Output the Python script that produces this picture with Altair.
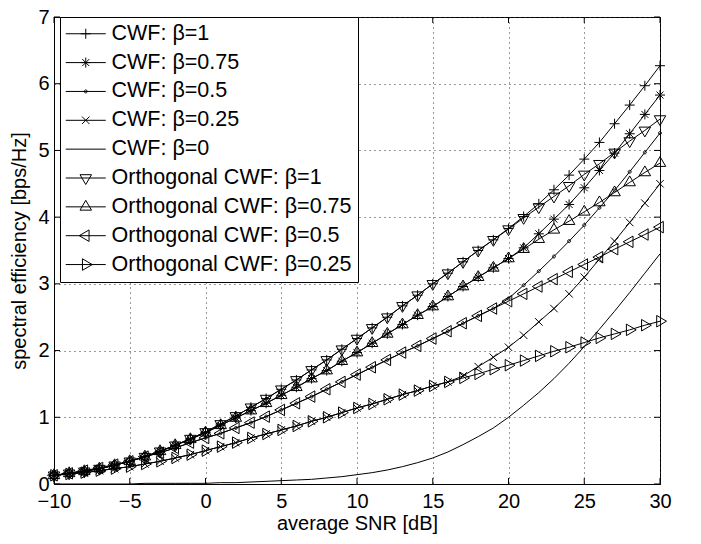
import altair as alt
import pandas as pd

# ---------------- data ----------------
snr_db = list(range(-10, 31))

cwf_b1 = [0.13, 0.16, 0.19, 0.23, 0.28, 0.34, 0.41, 0.49, 0.58, 0.68,
          0.78, 0.90, 1.02, 1.15, 1.28, 1.42, 1.56, 1.71, 1.86, 2.02,
          2.18, 2.34, 2.50, 2.67, 2.83, 3.00, 3.16, 3.33, 3.50, 3.66,
          3.83, 4.01, 4.20, 4.41, 4.63, 4.87, 5.12, 5.40, 5.68, 5.97, 6.27]
cwf_b075 = [0.13, 0.16, 0.19, 0.23, 0.28, 0.34, 0.41, 0.49, 0.58, 0.67,
            0.77, 0.88, 0.99, 1.10, 1.21, 1.33, 1.45, 1.58, 1.70, 1.84,
            1.97, 2.11, 2.25, 2.39, 2.53, 2.66, 2.81, 2.96, 3.10, 3.24,
            3.38, 3.54, 3.75, 3.97, 4.19, 4.44, 4.70, 4.96, 5.25, 5.54, 5.83]
cwf_b05 = [0.13, 0.16, 0.20, 0.24, 0.29, 0.34, 0.41, 0.47, 0.54, 0.62,
           0.69, 0.76, 0.84, 0.92, 1.01, 1.11, 1.21, 1.31, 1.42, 1.53,
           1.64, 1.75, 1.86, 1.97, 2.07, 2.18, 2.29, 2.41, 2.52, 2.63,
           2.78, 2.98, 3.19, 3.41, 3.64, 3.88, 4.14, 4.40, 4.68, 4.97, 5.26]
cwf_b025 = [0.13, 0.15, 0.17, 0.20, 0.23, 0.26, 0.30, 0.34, 0.39, 0.44,
            0.50, 0.56, 0.62, 0.69, 0.75, 0.81, 0.87, 0.94, 1.00, 1.07,
            1.14, 1.20, 1.27, 1.34, 1.40, 1.47, 1.53, 1.62, 1.76, 1.90,
            2.05, 2.23, 2.43, 2.63, 2.85, 3.10, 3.37, 3.64, 3.92, 4.21, 4.50]
cwf_b0 = [0.00, 0.00, 0.00, 0.00, 0.00, 0.00, 0.01, 0.01, 0.01, 0.01,
          0.01, 0.02, 0.02, 0.03, 0.04, 0.05, 0.06, 0.07, 0.09, 0.11,
          0.14, 0.17, 0.21, 0.26, 0.32, 0.39, 0.48, 0.59, 0.71, 0.84,
          1.00, 1.18, 1.37, 1.58, 1.81, 2.06, 2.32, 2.59, 2.87, 3.16, 3.45]
orth_b1 = [0.13, 0.16, 0.19, 0.23, 0.28, 0.34, 0.41, 0.49, 0.58, 0.68,
           0.78, 0.90, 1.02, 1.15, 1.28, 1.42, 1.56, 1.71, 1.86, 2.02,
           2.18, 2.34, 2.50, 2.67, 2.83, 3.00, 3.16, 3.33, 3.50, 3.66,
           3.82, 3.99, 4.15, 4.31, 4.47, 4.64, 4.80, 4.97, 5.14, 5.30, 5.47]
orth_b075 = [0.13, 0.16, 0.19, 0.23, 0.28, 0.34, 0.41, 0.49, 0.58, 0.67,
             0.77, 0.88, 0.99, 1.10, 1.21, 1.33, 1.45, 1.58, 1.70, 1.84,
             1.97, 2.11, 2.25, 2.39, 2.53, 2.66, 2.81, 2.96, 3.10, 3.24,
             3.38, 3.52, 3.67, 3.81, 3.94, 4.08, 4.22, 4.37, 4.52, 4.67, 4.81]
orth_b05 = [0.13, 0.16, 0.20, 0.24, 0.29, 0.34, 0.41, 0.47, 0.54, 0.62,
            0.69, 0.76, 0.84, 0.92, 1.01, 1.11, 1.21, 1.31, 1.42, 1.53,
            1.64, 1.75, 1.86, 1.97, 2.07, 2.18, 2.29, 2.41, 2.52, 2.63,
            2.74, 2.85, 2.96, 3.07, 3.18, 3.29, 3.40, 3.52, 3.63, 3.74, 3.85]
orth_b025 = [0.13, 0.15, 0.17, 0.20, 0.23, 0.26, 0.30, 0.34, 0.39, 0.44,
             0.50, 0.56, 0.62, 0.69, 0.75, 0.81, 0.87, 0.94, 1.00, 1.07,
             1.14, 1.20, 1.27, 1.34, 1.40, 1.47, 1.53, 1.59, 1.65, 1.72,
             1.78, 1.85, 1.92, 1.99, 2.05, 2.12, 2.19, 2.25, 2.31, 2.38, 2.44]

series_names = ["CWF: β=1", "CWF: β=0.75", "CWF: β=0.5", "CWF: β=0.25", "CWF: β=0",
                "Orthogonal CWF: β=1", "Orthogonal CWF: β=0.75",
                "Orthogonal CWF: β=0.5", "Orthogonal CWF: β=0.25"]
series_values = [cwf_b1, cwf_b075, cwf_b05, cwf_b025, cwf_b0,
                 orth_b1, orth_b075, orth_b05, orth_b025]

x_ticks = [-10, -5, 0, 5, 10, 15, 20, 25, 30]
y_ticks = [0, 1, 2, 3, 4, 5, 6, 7]

# ---------------- marker shapes (MATLAB style, unit coords) ----------------
marker_paths = [
    "M-1,0L1,0M0,-1L0,1",                                            # +
    "M-1,0L1,0M0,-1L0,1M-0.7,-0.7L0.7,0.7M-0.7,0.7L0.7,-0.7",         # *
    "M-0.3,0A0.3,0.3 0 1,1 0.3,0A0.3,0.3 0 1,1 -0.3,0Z",              # .
    "M-0.75,-0.75L0.75,0.75M-0.75,0.75L0.75,-0.75",                   # x
    "",                                                               # none
    "M-1.15,-0.66L1.15,-0.66L0,1.3Z",                                 # down tri
    "M-1.15,0.66L1.15,0.66L0,-1.3Z",                                  # up tri
    "M-1.3,0L0.66,-1.15L0.66,1.15Z",                                  # left tri
    "M1.3,0L-0.66,-1.15L-0.66,1.15Z",                                 # right tri
]
legend_paths = ["M-4,0L4,0" + p for p in marker_paths]
marked_names = [n for n, p in zip(series_names, marker_paths) if p]
marked_paths = [p for p in marker_paths if p]

rows = []
for name, vals in zip(series_names, series_values):
    for xv, yv in zip(snr_db, vals):
        rows.append({"snr": xv, "se": yv, "series": name})
df = pd.DataFrame(rows)
xt_df = pd.DataFrame({"v": x_ticks})
yt_df = pd.DataFrame({"v": y_ticks})

W, H = 606, 467
FONT = "Liberation Sans"

xs = alt.Scale(domain=[-10, 30], nice=False, zero=False)
ys = alt.Scale(domain=[0, 7], nice=False, zero=False)
x_axis = alt.Axis(values=x_ticks, title="average SNR [dB]", grid=True, ticks=False,
                  labelPadding=7, titlePadding=2, format="d", labelFlush=False,
                  labelOverlap=False)
y_axis = alt.Axis(values=y_ticks, title="spectral efficiency [bps/Hz]", grid=True,
                  ticks=False, labelPadding=5, titlePadding=8, format="d",
                  labelFlush=False, labelOverlap=False)

X = alt.X("snr:Q", scale=xs, axis=x_axis)
Y = alt.Y("se:Q", scale=ys, axis=y_axis)

lines = alt.Chart(df).mark_line(color="black", strokeWidth=1).encode(
    x=X, y=Y, detail="series:N", order="snr:Q")

points = alt.Chart(df).transform_filter(
    alt.FieldOneOfPredicate(field="series", oneOf=marked_names)
).mark_point(filled=False, color="black", size=100, strokeWidth=1, opacity=1).encode(
    x=X, y=Y,
    shape=alt.Shape("series:N", scale=alt.Scale(domain=marked_names, range=marked_paths),
                    legend=None))

legend_layer = alt.Chart(df).transform_filter("datum.snr > 1000").mark_point(
    filled=False, color="black", size=100, strokeWidth=1, opacity=1).encode(
    x=X, y=Y,
    shape=alt.Shape("series:N",
                    scale=alt.Scale(domain=series_names, range=legend_paths),
                    legend=alt.Legend(title=None, orient="none", legendX=6, legendY=0,
                                      padding=6, rowPadding=5.85, labelLimit=400,
                                      symbolOffset=9, labelOffset=15,
                                      strokeColor="black", fillColor="white",
                                      symbolStrokeColor="black", symbolStrokeWidth=1,
                                      labelFont=FONT, labelFontSize=21.5, labelColor="black",
                                      cornerRadius=0)))

tick_b = alt.Chart(xt_df).mark_rule(color="black", strokeWidth=1).encode(
    x=alt.X("v:Q", scale=xs, axis=x_axis), y=alt.value(H), y2=alt.value(H - 6))
tick_t = alt.Chart(xt_df).mark_rule(color="black", strokeWidth=1).encode(
    x=alt.X("v:Q", scale=xs, axis=x_axis), y=alt.value(0), y2=alt.value(6))
tick_l = alt.Chart(yt_df).mark_rule(color="black", strokeWidth=1).encode(
    y=alt.Y("v:Q", scale=ys, axis=y_axis), x=alt.value(0), x2=alt.value(6))
tick_r = alt.Chart(yt_df).mark_rule(color="black", strokeWidth=1).encode(
    y=alt.Y("v:Q", scale=ys, axis=y_axis), x=alt.value(W), x2=alt.value(W - 6))

chart = alt.layer(
    tick_b, tick_t, tick_l, tick_r, lines, points, legend_layer
).resolve_scale(shape="independent").properties(
    width=W, height=H,
    autosize=alt.AutoSizeParams(type="none"),
    padding={"left": 46, "top": 9, "right": 33, "bottom": 50},
).configure_axis(
    labelFont=FONT, labelFontSize=20, labelColor="black",
    titleFont=FONT, titleFontSize=20, titleFontWeight="normal", titleColor="black",
    domainColor="black", domainWidth=1,
    gridColor="#333333", gridDash=[1, 4], gridOpacity=1, gridWidth=1,
).configure_view(stroke="black", strokeWidth=1)

chart.save("out.html", embed_options={"renderer": "svg", "actions": False})
